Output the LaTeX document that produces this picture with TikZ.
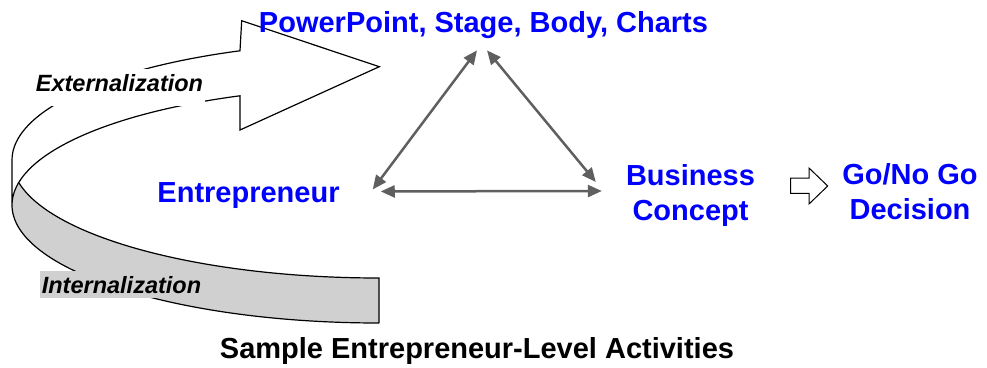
\documentclass[tikz,border=0pt]{standalone}
\usepackage{fontspec}
\setmainfont{Liberation Sans}
\usetikzlibrary{arrows.meta}
\definecolor{linkgray}{HTML}{5F5F5F}
\definecolor{bandgray}{HTML}{D0D0D0}
\definecolor{topicblue}{HTML}{0000FF}

\begin{document}
\begin{tikzpicture}[x=1pt,y=1pt,
    topic/.style={font=\fontsize{29}{35}\selectfont\bfseries, text=topicblue, inner sep=0pt, align=center},
    side/.style={font=\fontsize{23.5}{28}\selectfont\bfseries\itshape, inner xsep=1.5pt, inner ysep=0pt},
    link/.style={linkgray, line width=2.5pt, {Triangle[length=14pt,width=12pt]}-{Triangle[length=14pt,width=12pt]}},
    band/.style={draw=black, line width=1.2pt, line join=miter}]
    % frame of the picture
    \useasboundingbox (0,0) rectangle (987,-367);
    % centres of the upper and lower rim of the ribbon
    \coordinate (rimT) at (379,-160);
    \coordinate (rimB) at (379,-205);

    % front of the ribbon (grey)
    \fill[bandgray] ([shift={(rimT)}]191.2:367 and 118) arc [start angle=191.2, end angle=270, x radius=367, y radius=118]
        -- ([shift={(rimB)}]270:367 and 118) arc [start angle=270, end angle=169.3, x radius=367, y radius=118] -- cycle;

    % outline of ribbon and arrow head
    \draw[band] ([shift={(rimB)}]270:367 and 118) arc [start angle=270, end angle=112.26, x radius=367, y radius=118]
        -- (240,-130) -- (379.3,-66.7) -- (241.7,-20.7) -- ([shift={(rimT)}]112.26:367 and 118)
        arc [start angle=112.26, end angle=180, x radius=367, y radius=118] -- ([shift={(rimB)}]180:367 and 118);
    \draw[band] ([shift={(rimT)}]191.2:367 and 118) arc [start angle=191.2, end angle=270, x radius=367, y radius=118]
        -- ([shift={(rimB)}]270:367 and 118);

    % labels of the ribbon
    \node[side, fill=white, text height=22pt, text depth=15pt, anchor=base] (ext) at (119.5,-91) {Externalization};
    \node[side, fill=bandgray, text height=22pt, text depth=5pt, anchor=base] (int) at (121.5,-293) {Internalization};

    % the three topics
    \node[topic, anchor=base] (pp) at (483.5,-32) {PowerPoint, Stage, Body, Charts};
    \node[topic, anchor=base] (ent) at (248.5,-202) {Entrepreneur};
    \node[topic] (biz) at (690.5,-195) {Business\\Concept};
    \node[topic] (go) at (910,-192) {Go/No Go\\Decision};

    % links between them
    \draw[link] ([xshift=-6.5pt,yshift=-12pt]pp.south) -- ([xshift=33pt,yshift=5.6pt]ent.east);
    \draw[link] ([xshift=3.5pt,yshift=-12pt]pp.south) -- ([xshift=-30pt,yshift=13pt]biz.west);
    \draw[link] ([xshift=41pt,yshift=3.6pt]ent.east) -- ([xshift=-24pt,yshift=4pt]biz.west);

    % hollow arrow to the decision
    \draw[line width=1pt, fill=white] (790.7,-178) -- (809,-178) -- (809,-168) -- (827.7,-186)
        -- (809,-204) -- (809,-193.3) -- (790.7,-193.3) -- cycle;

    % caption
    \node[font=\fontsize{29}{35}\selectfont\bfseries, inner sep=0pt, anchor=base] (cap) at (477,-358) {Sample Entrepreneur-Level Activities};
\end{tikzpicture}
\end{document}
